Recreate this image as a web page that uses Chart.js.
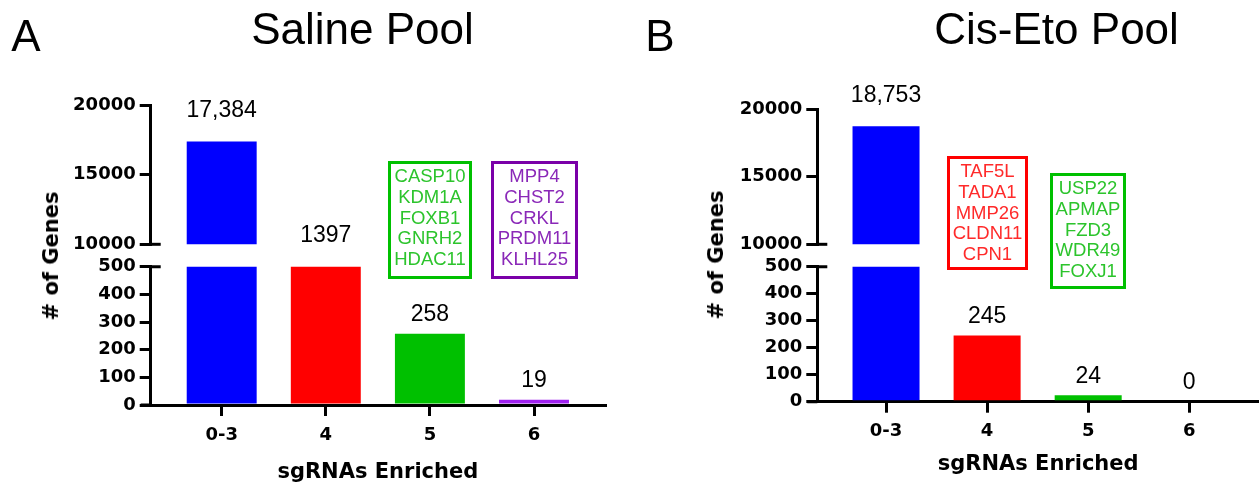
<!DOCTYPE html>
<html>
<head>
<meta charset="utf-8">
<script src="https://cdn.jsdelivr.net/npm/chart.js@4"></script>
<style>
  body { margin: 0; background: #fff; }
  #page { position: relative; width: 1259px; height: 486px; overflow: hidden; font-family: "Liberation Sans", Arial, sans-serif; }
  #page canvas { position: absolute; top: 0; }
  .txt { position: absolute; white-space: nowrap; color: #000; }
  .big { font-size: 44px; line-height: 44px; transform: translateX(-50%); }
  .ytitle { font-family: "DejaVu Sans"; font-weight: bold; font-size: 21px; line-height: 24px; transform: translate(-50%, -50%) rotate(-90deg); }
  .genes { position: absolute; box-sizing: border-box; border: 3px solid; text-align: center; font-size: 18.5px; line-height: 20.8px; padding-top: 2px; }
</style>
</head>
<body>
<div id="page"></div>
<script>
// data
const categories = ["0-3", "4", "5", "6"];
const salineGenes = [17384, 1397, 258, 19];
const cisEtoGenes = [18753, 245, 24, 0];
const barColors = ["#0000ff", "#ff0000", "#00c000", "#a020f0"];
const upperTicks = [10000, 15000, 20000];
const lowerTicks = [0, 100, 200, 300, 400, 500];
const salineHits5 = ["CASP10", "KDM1A", "FOXB1", "GNRH2", "HDAC11"];
const salineHits6 = ["MPP4", "CHST2", "CRKL", "PRDM11", "KLHL25"];
const cisEtoHits4 = ["TAF5L", "TADA1", "MMP26", "CLDN11", "CPN1"];
const cisEtoHits5 = ["USP22", "APMAP", "FZD3", "WDR49", "FOXJ1"];

// layout of the two panels (pixels)
const panels = [
  { letter: "A", title: "Saline Pool", data: salineGenes, left: 0, width: 630,
    axisX: 150.7, right: 605, upTop: 105, upBottom: 244.3, lowTop: 266.7, lowBottom: 405,
    xMin: -0.682, xMax: 3.682, barPct: 0.672, tickPad: 9, xScaleH: 80,
    titleX: 362.5, letterX: 26, yTitleX: 50.5, yTitleY: 256,
    boxes: [
      { genes: salineHits5, border: "#00c000", color: "#2cc42c", x: 388, y: 161, w: 84, h: 118 },
      { genes: salineHits6, border: "#7a00a8", color: "#8a28b8", x: 491, y: 161, w: 87, h: 118 }
    ] },
  { letter: "B", title: "Cis-Eto Pool", data: cisEtoGenes, left: 630, width: 629,
    axisX: 187.3, right: 629, upTop: 109.3, upBottom: 244.3, lowTop: 266.7, lowBottom: 401.7,
    xMin: -0.68, xMax: 3.69, barPct: 0.663, tickPad: 7.5, xScaleH: 75.3,
    titleX: 1056.6, letterX: 660, yTitleX: 716, yTitleY: 255,
    boxes: [
      { genes: cisEtoHits4, border: "#ff0000", color: "#ff2a2a", x: 947, y: 156, w: 81, h: 114 },
      { genes: cisEtoHits5, border: "#00c000", color: "#2cc42c", x: 1050, y: 173, w: 76, h: 116 }
    ] }
];

const tickFont = { family: "DejaVu Sans", weight: "bold", size: 18 };

const valueLabels = {
  id: "valueLabels",
  afterDatasetsDraw(chart, args, opts) {
    const ctx = chart.ctx;
    const y = chart.scales.y, x = chart.scales.x;
    ctx.save();
    ctx.font = '23px "Liberation Sans", Arial, sans-serif';
    ctx.fillStyle = "#000";
    ctx.textAlign = "center";
    ctx.textBaseline = "middle";
    chart.data.datasets[0].data.forEach(pt => {
      const v = pt.y;
      let top, off;
      if (opts.upper) {
        if (v < y.min) return;
        top = y.getPixelForValue(v); off = 30.5;
      } else {
        if (v >= upperTicks[0]) return;
        top = y.getPixelForValue(Math.min(v, y.max));
        off = v > y.max ? 31 : 19;
      }
      const txt = v >= 10000 ? v.toLocaleString("en-US") : String(v);
      ctx.fillText(txt, x.getPixelForValue(pt.x), top - off);
    });
    ctx.restore();
  }
};

const axisBreak = {
  id: "axisBreak",
  afterDraw(chart, args, opts) {
    const ctx = chart.ctx, a = chart.chartArea;
    ctx.save();
    ctx.strokeStyle = "#000";
    ctx.lineWidth = 3;
    ctx.beginPath();
    if (opts.upper) {
      ctx.moveTo(a.left, a.bottom); ctx.lineTo(a.left + 10, a.bottom);
    } else {
      ctx.moveTo(a.left, a.top); ctx.lineTo(a.left + 10, a.top);
      ctx.moveTo(a.left - 10, a.bottom); ctx.lineTo(a.left, a.bottom);
    }
    ctx.stroke();
    ctx.restore();
  }
};

function buildChart(p, upper) {
  const canvas = document.createElement("canvas");
  canvas.width = p.width; canvas.height = 486;
  canvas.style.left = p.left + "px";
  document.getElementById("page").appendChild(canvas);
  const yWidth = 80;
  return new Chart(canvas, {
    type: "bar",
    data: {
      datasets: [{
        data: p.data.map((v, i) => ({ x: i, y: v })),
        backgroundColor: barColors,
        borderWidth: 0,
        barPercentage: p.barPct,
        categoryPercentage: 1,
        clip: 0
      }]
    },
    options: {
      responsive: false,
      animation: false,
      events: [],
      layout: { padding: {
        left: p.axisX - yWidth,
        right: p.width - p.right,
        top: upper ? p.upTop : p.lowTop,
        bottom: upper ? 486 - p.upBottom : 486 - p.lowBottom - p.xScaleH
      } },
      plugins: {
        legend: { display: false },
        tooltip: { enabled: false },
        valueLabels: { upper: upper },
        axisBreak: { upper: upper }
      },
      scales: {
        x: {
          type: "linear",
          display: !upper,
          offset: false,
          min: p.xMin, max: p.xMax,
          afterBuildTicks: s => { s.ticks = categories.map((c, i) => ({ value: i })); },
          afterFit: s => { if (!upper) s.height = p.xScaleH; },
          ticks: { callback: v => categories[v], font: tickFont, color: "#000", padding: p.tickPad, maxRotation: 0, autoSkip: false },
          grid: { offset: false, drawOnChartArea: false, color: "#000", lineWidth: 3, tickLength: 11 },
          border: { color: "#000", width: 3 },
          title: { display: true, text: "sgRNAs Enriched", color: "#000", padding: 0,
                   font: { family: "DejaVu Sans", weight: "bold", size: 21 } }
        },
        y: {
          min: upper ? 10000 : 0,
          max: upper ? 20000 : 500,
          afterBuildTicks: s => { s.ticks = (upper ? upperTicks : lowerTicks).map(v => ({ value: v })); },
          afterFit: s => { s.width = yWidth; },
          ticks: { callback: v => String(v), font: tickFont, color: "#000", padding: 4, autoSkip: false },
          grid: { drawOnChartArea: false, color: "#000", lineWidth: 3, tickLength: 11 },
          border: { color: "#000", width: 3 }
        }
      }
    },
    plugins: [valueLabels, axisBreak]
  });
}

function addText(cls, text, x, y) {
  const d = document.createElement("div");
  d.className = "txt " + cls;
  d.textContent = text;
  d.style.left = x + "px";
  d.style.top = y + "px";
  document.getElementById("page").appendChild(d);
}

panels.forEach(p => {
  buildChart(p, true);
  buildChart(p, false);
  addText("big", p.title, p.titleX, 7);
  addText("big", p.letter, p.letterX, 13.5);
  addText("ytitle", "# of Genes", p.yTitleX, p.yTitleY);
  p.boxes.forEach(b => {
    const d = document.createElement("div");
    d.className = "genes";
    d.style.left = b.x + "px"; d.style.top = b.y + "px";
    d.style.width = b.w + "px"; d.style.height = b.h + "px";
    d.style.borderColor = b.border; d.style.color = b.color;
    d.innerHTML = b.genes.join("<br>");
    document.getElementById("page").appendChild(d);
  });
});
</script>
</body>
</html>
